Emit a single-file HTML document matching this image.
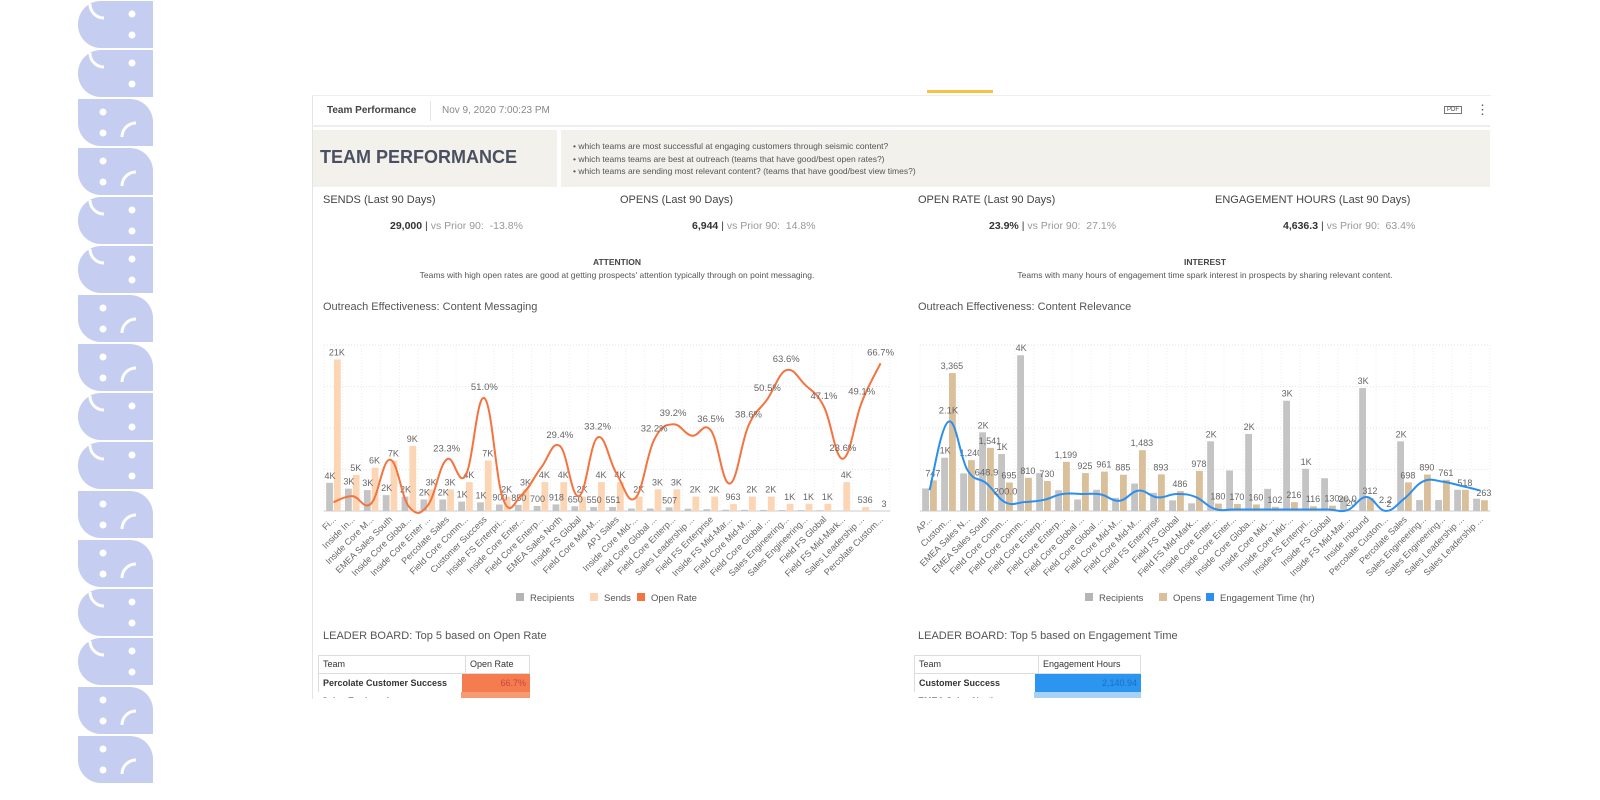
<!DOCTYPE html>
<html><head><meta charset="utf-8">
<style>
body{margin:0;width:1600px;height:800px;background:#fff;font-family:"Liberation Sans",sans-serif;position:relative;overflow:hidden;color:#555}
.a{position:absolute;white-space:nowrap}
</style></head><body>
<svg id="deco" width="1600" height="800" style="position:absolute;left:0;top:0"></svg>

<div class="a" style="left:927px;top:90px;width:66px;height:3px;background:#f5c342"></div>
<div class="a" style="left:312px;top:95px;width:1178px;height:603px;border-left:1px solid #e4e4e4;border-top:1px solid #eee"></div>
<div class="a" style="left:327px;top:105px;font-size:10px;font-weight:bold;color:#444">Team Performance</div>
<div class="a" style="left:430px;top:101px;width:1px;height:20px;background:#e4e4e4"></div>
<div class="a" style="left:442px;top:105px;font-size:10px;color:#888">Nov 9, 2020 7:00:23 PM</div>
<div class="a" style="left:1444px;top:106px;font-size:6px;border:1px solid #777;padding:0 2px;color:#444">PDF</div>
<div class="a" style="left:1476px;top:102px;font-size:13px;color:#555">⋮</div>
<div class="a" style="left:312px;top:125px;width:1178px;height:2px;background:#eee"></div>

<div class="a" style="left:313px;top:130px;width:244px;height:57px;background:#f3f1ec"></div>
<div class="a" style="left:320px;top:147px;font-size:18px;font-weight:bold;color:#4a5060">TEAM PERFORMANCE</div>
<div class="a" style="left:561px;top:130px;width:929px;height:57px;background:#f3f1ec"></div>
<div class="a" style="left:573px;top:140px;font-size:8.5px;line-height:12.5px;color:#555">• which teams are most successful at engaging customers through seismic content?<br>• which teams teams are best at outreach (teams that have good/best open rates?)<br>• which teams are sending most relevant content? (teams that have good/best view times?)</div>

<div class="a" style="left:323px;top:194px;font-size:11px;color:#444">SENDS (Last 90 Days)</div>
<div class="a" style="left:620px;top:194px;font-size:11px;color:#444">OPENS (Last 90 Days)</div>
<div class="a" style="left:918px;top:194px;font-size:11px;color:#444">OPEN RATE (Last 90 Days)</div>
<div class="a" style="left:1215px;top:194px;font-size:11px;color:#444">ENGAGEMENT HOURS (Last 90 Days)</div>
<div class="a" style="left:390px;top:220px;font-size:10.5px;color:#999"><b style="color:#333">29,000</b> <span style="color:#333">|</span> vs Prior 90:&nbsp; -13.8%</div>
<div class="a" style="left:692px;top:220px;font-size:10.5px;color:#999"><b style="color:#333">6,944</b> <span style="color:#333">|</span> vs Prior 90:&nbsp; 14.8%</div>
<div class="a" style="left:989px;top:220px;font-size:10.5px;color:#999"><b style="color:#333">23.9%</b> <span style="color:#333">|</span> vs Prior 90:&nbsp; 27.1%</div>
<div class="a" style="left:1283px;top:220px;font-size:10.5px;color:#999"><b style="color:#333">4,636.3</b> <span style="color:#333">|</span> vs Prior 90:&nbsp; 63.4%</div>

<div class="a" style="left:317px;width:600px;text-align:center;top:257px;font-size:8.5px;font-weight:bold;color:#444">ATTENTION</div>
<div class="a" style="left:317px;width:600px;text-align:center;top:270px;font-size:8.5px;color:#555">Teams with high open rates are good at getting prospects' attention typically through on point messaging.</div>
<div class="a" style="left:905px;width:600px;text-align:center;top:257px;font-size:8.5px;font-weight:bold;color:#444">INTEREST</div>
<div class="a" style="left:905px;width:600px;text-align:center;top:270px;font-size:8.5px;color:#555">Teams with many hours of engagement time spark interest in prospects by sharing relevant content.</div>

<div class="a" style="left:323px;top:301px;font-size:11px;color:#555">Outreach Effectiveness: Content Messaging</div>
<div class="a" style="left:918px;top:301px;font-size:11px;color:#555">Outreach Effectiveness: Content Relevance</div>

<svg id="charts" width="1600" height="800" style="position:absolute;left:0;top:0;font-family:'Liberation Sans',sans-serif"></svg>

<div class="a" style="left:323px;top:630px;font-size:11px;color:#555">LEADER BOARD: Top 5 based on Open Rate</div>
<div class="a" style="left:918px;top:630px;font-size:11px;color:#555">LEADER BOARD: Top 5 based on Engagement Time</div>
<div class="a" style="left:318px;top:655px;width:212px;height:43px;overflow:hidden;font-size:9px;color:#333">
 <div style="display:flex;height:17px;border:1px solid #ddd"><div style="width:138px;padding:3px 4px;border-right:1px solid #ddd">Team</div><div style="padding:3px 4px">Open Rate</div></div>
 <div style="display:flex;height:18px;border-left:1px solid #ddd"><div style="width:135px;padding:4px;font-weight:bold">Percolate Customer Success</div><div style="flex:1;background:#f47c4f;color:#c44;text-align:right;padding:4px">66.7%</div></div>
 <div style="display:flex;height:18px"><div style="width:135px;padding:4px;font-weight:bold">Sales Engineering</div><div style="flex:1;background:#f79a74"></div></div>
</div>
<div class="a" style="left:914px;top:655px;width:227px;height:43px;overflow:hidden;font-size:9px;color:#333">
 <div style="display:flex;height:17px;border:1px solid #ddd"><div style="width:115px;padding:3px 4px;border-right:1px solid #ddd">Team</div><div style="padding:3px 4px">Engagement Hours</div></div>
 <div style="display:flex;height:18px;border-left:1px solid #ddd"><div style="width:112px;padding:4px;font-weight:bold">Customer Success</div><div style="flex:1;background:#2b95f0;color:#1a6fc0;text-align:right;padding:4px">2,140.94</div></div>
 <div style="display:flex;height:18px"><div style="width:112px;padding:4px;font-weight:bold">EMEA Sales North</div><div style="flex:1;background:#a9d0f5"></div></div>
</div>

<script>
// ---------- Left chart data ----------
const leftCategories=["Fi...","Inside In...","Inside Core M...","EMEA Sales South","Inside Core Globa...","Inside Core Enter ...","Percolate Sales","Field Core Comm...","Customer Success","Inside FS Enterpri...","Inside Core Enter...","Field Core Enterp...","EMEA Sales North","Inside FS Global","Field Core Mid-M...","APJ Sales","Inside Core Mid-...","Field Core Global ...","Field Core Enterp...","Sales Leadership ...","Field FS Enterprise","Inside FS Mid-Mar...","Field Core Mid-M...","Field Core Global ...","Sales Engineering...","Sales Engineering...","Field FS Global","Field FS Mid-Mark...","Sales Leadership ...","Percolate Custom..."];
const leftRecipients=[3900,3100,2900,2200,2000,1600,1600,1300,1200,900,850,700,918,650,550,551,350,350,507,320,250,180,170,150,130,120,100,70,30,2];
const leftSends=[21000,5000,6000,7000,9000,3000,3000,4000,7000,2000,3000,4000,4000,2000,4000,4000,2000,3000,3000,2000,2000,963,2000,2000,1000,1000,1000,4000,536,3];
const leftOpenRate=[4.0,6.7,3.4,23.2,2.0,2.5,23.3,16.0,51.0,5.2,7.5,19.5,29.4,6.7,33.2,17.0,5.8,32.2,39.2,34.0,36.5,12.4,38.6,50.5,63.6,57.0,47.1,23.6,49.1,66.7];
const leftRateLabelIdx=[6,8,12,14,17,18,20,22,23,24,26,27,28,29];
// ---------- Right chart data ----------
const rightCategories=["AP...","Custom...","EMEA Sales N...","EMEA Sales South","Field Core Comm...","Field Core Comm...","Field Core Enterp...","Field Core Enterp...","Field Core Global ...","Field Core Global ...","Field Core Mid-M...","Field Core Mid-M...","Field FS Enterprise","Field FS Global","Field FS Mid-Mark...","Inside Core Enter...","Inside Core Enter...","Inside Core Globa...","Inside Core Mid-...","Inside Core Mid-...","Inside FS Enterpri...","Inside FS Global","Inside FS Mid-Mar...","Inside Inbound","Percolate Custom...","Percolate Sales","Sales Engineering...","Sales Engineering...","Sales Leadership ...","Sales Leadership ..."];
const rightRecipients=[550,1300,918,1920,1390,3800,923,507,281,518,320,670,443,260,187,1700,988,1880,540,2690,1030,800,344,3000,2,1700,267,267,518,300];
const rightOpens=[747,3365,1240,1541,695,810,730,1199,925,961,885,1483,893,486,978,180,170,160,102,216,116,130,20,312,2,698,890,761,518,263];
const rightEngagement=[490,2100,960,648.9,200,210,260,400,400,390,240,480,320,400,330,50,35,35,35,35,35,35,20,330,2.2,295,700,690,590,480];
const rightEngLabelIdx=[1,3,4,22,24];

const NS="http://www.w3.org/2000/svg";
const svg=document.getElementById('charts');
function el(tag,attrs,parent){const e=document.createElementNS(NS,tag);for(const k in attrs)e.setAttribute(k,attrs[k]);(parent||svg).appendChild(e);return e;}
function fmtK(v){return v>=1000?Math.round(v/1000)+'K':String(Math.round(v));}
function fmtC(v){return v>=1000?Math.round(v).toLocaleString('en-US'):String(Math.round(v));}
function smooth(pts){let d='M'+pts[0][0]+','+pts[0][1];for(let i=0;i<pts.length-1;i++){const p0=pts[i-1]||pts[i],p1=pts[i],p2=pts[i+1],p3=pts[i+2]||p2;const t=0.2;d+=' C'+(p1[0]+(p2[0]-p0[0])*t)+','+(p1[1]+(p2[1]-p0[1])*t)+' '+(p2[0]-(p3[0]-p1[0])*t)+','+(p2[1]-(p3[1]-p1[1])*t)+' '+p2[0]+','+p2[1];}return d;}

function drawChart(o){
  const g=el('g',{});
  
  
  const n=o.cats.length, slot=(o.x1-o.x0)/n;
  const yB=v=>o.base-(v/o.barMax)*(o.base-o.top);
  const yL=v=>o.base-(v/o.lineMax)*(o.base-o.top);
  const cx=i=>o.x0+slot*(i+0.5);
  for(let k=0;k<=4;k++){const y=o.top+(o.base-o.top)*k/4;const l=el('line',{x1:o.x0,x2:o.x1,y1:y,y2:y,stroke:'#e6e6e6','stroke-dasharray':'1,2'},g);}
  for(let i=0;i<=n;i++){const x=o.x0+slot*i;const l=el('line',{x1:x,x2:x,y1:o.top,y2:o.base,stroke:'#eee','stroke-dasharray':'1,2'},g);}
  const ax=el('line',{x1:o.x0,x2:o.x1,y1:o.base,y2:o.base,stroke:'#ccc'},g);
  const bw=slot*0.36;
  for(let i=0;i<n;i++){
    const a=o.s1[i],b=o.s2[i];
    const r1=el('rect',{x:cx(i)-bw-0.5,y:yB(a),width:bw,height:o.base-yB(a),fill:'#c4c4c4'},g);
    
    const r2=el('rect',{x:cx(i)+0.5,y:yB(b),width:bw,height:o.base-yB(b),fill:o.c2},g);
    
    if(a>=o.minLbl){
    const t1=el('text',{x:cx(i)-bw/2,y:yB(a)-4,'font-size':9,fill:'#666','text-anchor':'middle'},g);t1.textContent=fmtK(a);
    }
    const t2=el('text',{x:cx(i)+bw/2,y:yB(b)-4,'font-size':9,fill:'#666','text-anchor':'middle'},g);t2.textContent=o.f2(b);
    
    const xl=el('text',{transform:'translate('+(cx(i)+3)+','+(o.base+9)+') rotate(-45)','font-size':9,fill:'#666','text-anchor':'end'},g);xl.textContent=o.cats[i];
    
  }
  const pts=o.line.map((v,i)=>[cx(i),yL(v)]);
  const p=el('path',{d:smooth(pts),fill:'none',stroke:o.lc,'stroke-width':2},g);
  
  o.lIdx.forEach(i=>{const t=el('text',{x:cx(i),y:yL(o.line[i])-8,'font-size':9.5,fill:'#666','text-anchor':'middle'},g);t.textContent=o.fl(o.line[i]);
    });
  let lx=o.legX;const ly=599;
  o.legend.forEach(([c,txt])=>{const r=el('rect',{x:lx,y:ly-6,width:8,height:8,fill:c},g);
    const t=el('text',{x:lx+14,y:ly+2,'font-size':9.5,fill:'#555'},g);t.textContent=txt;lx+=20+txt.length*5.4;});
}
drawChart({name:'content-messaging-chart',cats:leftCategories,s1:leftRecipients,s2:leftSends,s2name:'sends',c2:'#fcd5b5',line:leftOpenRate,lc:'#f4733f',lineName:'open-rate-line',minLbl:500,
  x0:324,x1:890,top:345,base:511,barMax:23000,lineMax:75,f2:fmtK,fl:v=>v.toFixed(1)+'%',lIdx:leftRateLabelIdx,legX:516,legend:[['#b5b5b5','Recipients'],['#fcd5b5','Sends'],['#f4733f','Open Rate']]});
drawChart({name:'content-relevance-chart',cats:rightCategories,s1:rightRecipients,s2:rightOpens,s2name:'opens',c2:'#d9bf9a',line:rightEngagement,lc:'#2b8ff0',lineName:'engagement-time-line',minLbl:1000,
  x0:920,x1:1490,top:345,base:511,barMax:4050,lineMax:3900,f2:fmtC,fl:v=>v>=1000?(v/1000).toFixed(1)+'K':v.toFixed(1),lIdx:rightEngLabelIdx,legX:1085,legend:[['#b5b5b5','Recipients'],['#d9bf9a','Opens'],['#2b8ff0','Engagement Time (hr)']]});

const deco=document.getElementById('deco');
for(let k=0;k<16;k++){
  const y=k*49+1, flip=(k>>1)%2;
  const g=document.createElementNS(NS,'g');deco.appendChild(g);
  
  
  const r=document.createElementNS(NS,'path');
  const d=flip?'M78,'+y+' h52 a23,23 0 0 1 23,23 v24 h-52 a23,23 0 0 1 -23,-23 z':'M101,'+y+' h52 v47 h-52 a23,23 0 0 1 -23,-23 a23,23 0 0 1 23,-24 z';
  r.setAttribute('d',d);r.setAttribute('fill','#c5cdf0');g.appendChild(r);
  const ex=flip?103:132;
  [[ex,y+13],[ex,y+34]].forEach(([x,yy])=>{const c=document.createElementNS(NS,'circle');c.setAttribute('cx',x);c.setAttribute('cy',yy);c.setAttribute('r',3.5);c.setAttribute('fill','#fff');g.appendChild(c);});
  const a=document.createElementNS(NS,'path');
  a.setAttribute('d',flip?'M122,'+(y+38)+' a14,14 0 0 1 14,-14':'M90,'+(y+3)+' a14,14 0 0 0 14,14');
  a.setAttribute('stroke','#fff');a.setAttribute('stroke-width',3);a.setAttribute('fill','none');g.appendChild(a);
}
</script>
</body></html>
